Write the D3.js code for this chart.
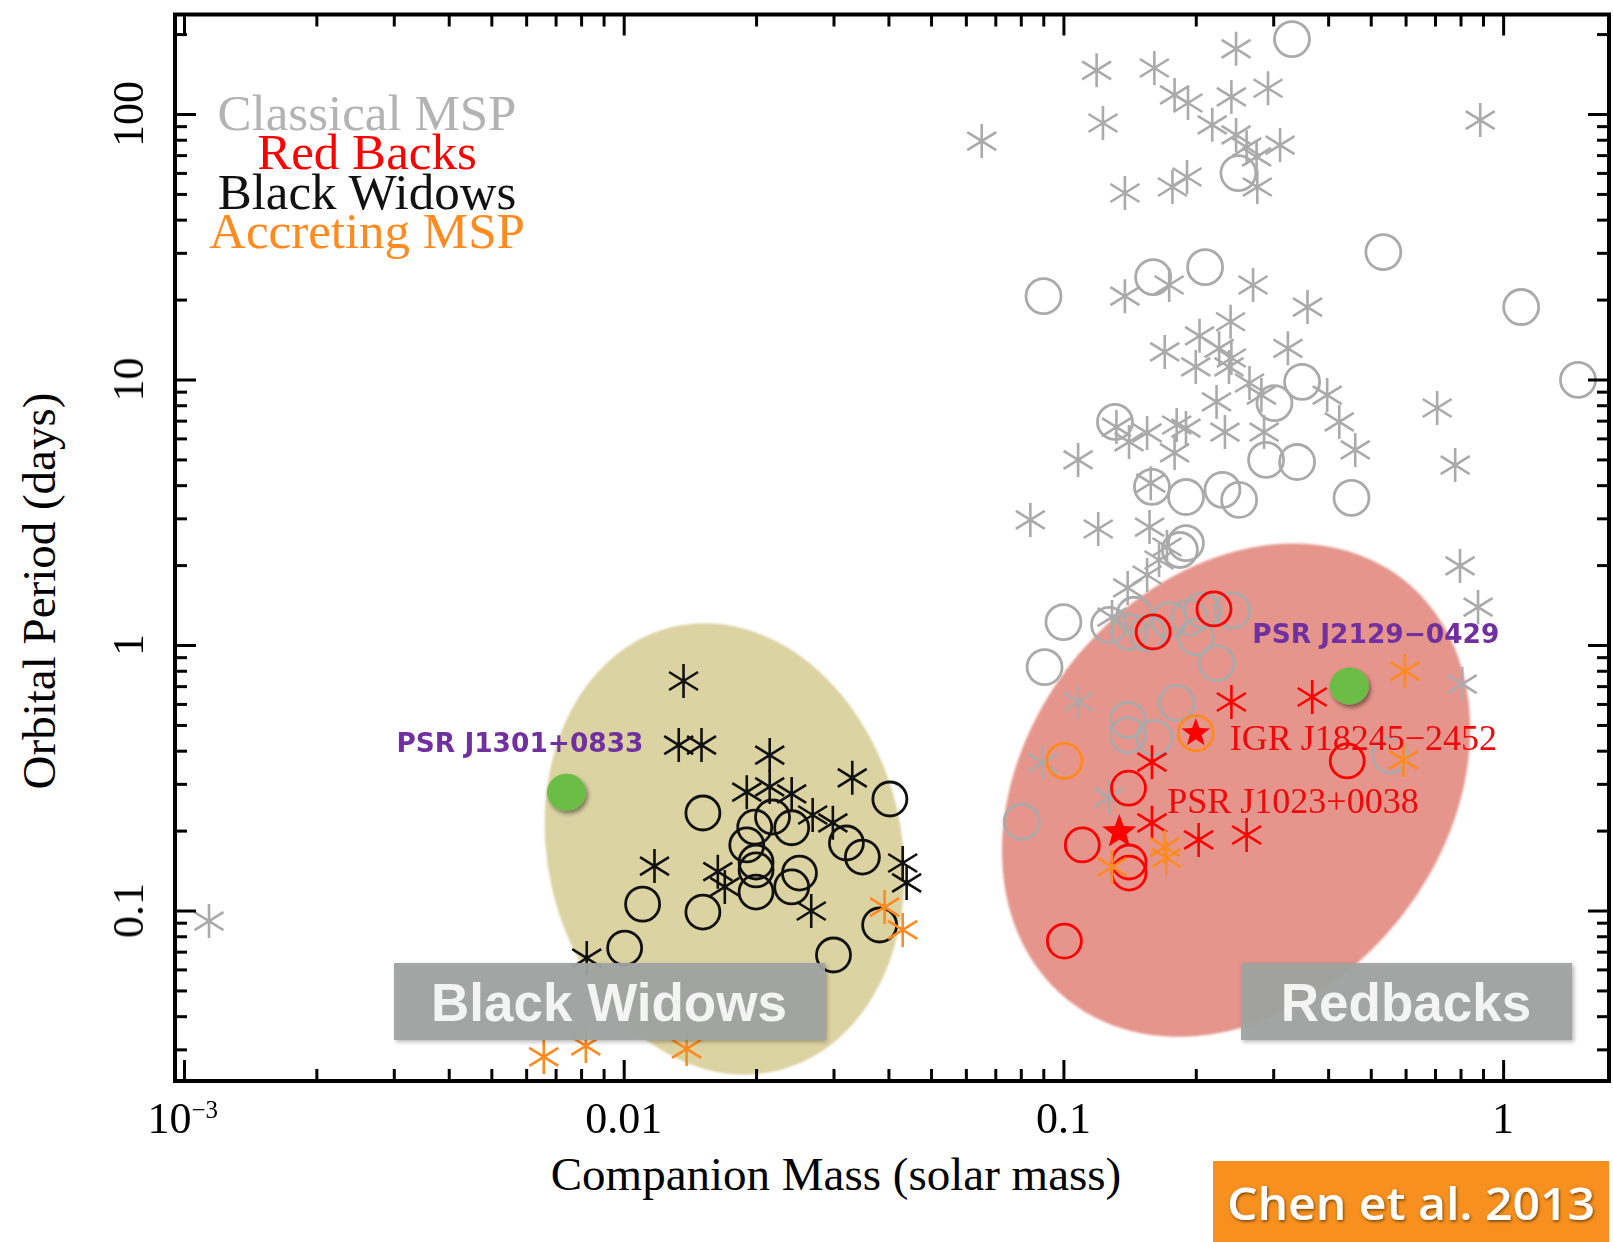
<!DOCTYPE html>
<html>
<head>
<meta charset="utf-8">
<script src="https://cdn.jsdelivr.net/npm/d3@7"></script>
<style>
body{margin:0;background:#fff;}
svg{display:block;}
</style>
</head>
<body>
<script>
//-----------------------------------------------------------------------------------------------------------------DATA

// axis limits and ticks
var massRange = [0.000954, 1.741];
var periodRange = [0.0228, 237];
var xMajorTicks = [0.001, 0.01, 0.1, 1];
var xTickLabels = [["10", "\u22123"], ["0.01"], ["0.1"], ["1"]];
var xMinorTicks = [0.002,0.003,0.004,0.005,0.006,0.007,0.008,0.009,
	0.02,0.03,0.04,0.05,0.06,0.07,0.08,0.09,
	0.2,0.3,0.4,0.5,0.6,0.7,0.8,0.9];
var yMajorTicks = [0.1, 1, 10, 100];
var yTickLabels = ["0.1", "1", "10", "100"];
var yMinorTicks = [0.03,0.04,0.05,0.06,0.07,0.08,0.09,
	0.2,0.3,0.4,0.5,0.6,0.7,0.8,0.9,
	2,3,4,5,6,7,8,9,
	20,30,40,50,60,70,80,90,200];

var legendNames = ["Classical MSP", "Red Backs", "Black Widows", "Accreting MSP"];

// [companion mass, orbital period]
var classicalStars = [[0.119,146],[0.161,149],[0.247,176],[0.292,125],[0.179,118],[0.192,110],[0.241,116],
	[0.123,92.5],[0.218,91],[0.247,83.4],[0.261,75],[0.275,68.9],[0.311,76.4],[0.276,53.1],[0.191,57.9],
	[0.177,53.1],[0.138,50.4],[0.0652,79.1],[0.887,94.9],[0.138,20.6],[0.174,22.7],[0.270,22.7],
	[0.359,18.75],[0.240,16.5],[0.204,14.6],[0.170,12.7],[0.226,13.1],[0.324,13.1],[0.241,12.05],
	[0.200,11.15],[0.238,11.15],[0.265,9.70],[0.282,8.74],[0.223,8.23],[0.398,8.74],[0.424,6.92],
	[0.461,5.43],[0.286,6.34],[0.233,6.34],[0.181,6.74],[0.190,6.56],[0.155,6.29],[0.141,5.82],
	[0.132,6.62],[0.179,5.29],[0.108,4.98],[0.158,4.07],[0.0841,2.96],[0.120,2.735],[0.157,2.78],
	[0.172,2.34],[0.165,2.09],[0.155,1.835],[0.140,1.64],[0.129,1.274],[0.108,0.610],[0.0896,0.360],
	[0.127,0.267],[0.708,7.81],[0.778,4.76],[0.798,1.985],[0.877,1.39],[0.807,0.713],[0.00114,0.0913]];
var classicalCircles = [[0.331,191.5],[0.250,59.9],[0.0901,20.6],[0.160,24.3],[0.210,26.5],[0.534,30.2],
	[1.099,18.75],[1.48,9.96],[0.131,6.92],[0.159,3.94],[0.190,3.61],[0.230,3.84],[0.251,3.52],[0.289,4.98],
	[0.340,4.89],[0.302,8.15],[0.349,9.79],[0.452,3.58],[0.190,2.42],[0.184,2.28],[0.100,1.22],[0.0906,0.826],
	[0.141,1.12],[0.155,1.11],[0.174,1.24],[0.193,1.27],[0.207,1.35],[0.242,1.35],[0.200,1.07],[0.223,0.855],
	[0.181,0.605],[0.140,0.522],[0.140,0.458],[0.161,0.447],[0.0804,0.216],[0.553,0.385],[0.127,1.19],[0.145,1.30]];
var widowStars = [[0.01368,0.732],[0.01334,0.420],[0.01503,0.420],[0.02148,0.385],[0.01905,0.279],[0.02148,0.292],
	[0.0241,0.275],[0.0331,0.316],[0.0269,0.229],[0.0299,0.214],[0.0431,0.151],[0.0440,0.127],[0.01175,0.147],
	[0.01637,0.140],[0.01698,0.1227],[0.0267,0.0996],[0.00824,0.0662]];
var widowCircles = [[0.01514,0.233],[0.0403,0.263],[0.0218,0.225],[0.01986,0.206],[0.0241,0.205],[0.0321,0.1796],
	[0.0349,0.159],[0.01905,0.1766],[0.0200,0.1523],[0.0200,0.1422],[0.0251,0.1384],[0.0241,0.1227],[0.0200,0.1174],
	[0.01104,0.1057],[0.01514,0.0987],[0.0382,0.0882],[0.01005,0.0722],[0.0300,0.0680]];
var accretingStars = [[0.0392,0.103],[0.0431,0.0845],[0.00658,0.0281],[0.00820,0.0309],[0.0139,0.0301],
	[0.170,0.1734],[0.1714,0.1577],[0.129,0.146],[0.598,0.798],[0.593,0.369]];
var accretingCircles = [[0.1005,0.366],[0.200,0.466]];
var redbackStars = [[0.241,0.610],[0.368,0.637],[0.159,0.362],[0.159,0.214],[0.203,0.1844],[0.261,0.1925]];
var redbackCircles = [[0.160,1.12],[0.220,1.367],[0.1406,0.289],[0.1104,0.1766],[0.141,0.1523],[0.141,0.1384],
	[0.1005,0.0767],[0.442,0.366]];

// named redback systems (filled stars)
var namedRedbacks = ["IGR J18245\u22122452", "PSR J1023+0038"];
var namedRedbackValues = [[0.200,0.466],[0.134,0.1976]];

// highlighted pulsars (green dots)
var highlightNames = ["PSR J1301+0833", "PSR J2129\u22120429"];
var highlightValues = [[0.00741,0.279],[0.447,0.701]];

// shaded populations
var zoneNames = ["Black Widows", "Redbacks"];
var zoneCenters = [[0.01696,0.1706],[0.247,0.284]];

//-----------------------------------------------------------------------------------------------------------------SETUP

var W = 1613, H = 1242;
var plot = {left:175, right:1609, top:14.5, bottom:1081};
var serif = "'Liberation Serif','Times New Roman',serif";

var gray = "#aaaaaa", red = "#ff0000", orange = "#ff8a1f", black = "#111111";

var svg = d3.select("body").append("svg").attr("width", W).attr("height", H);
var defs = svg.append("defs");

var x = d3.scaleLog().domain(massRange).range([plot.left, plot.right]);
var y = d3.scaleLog().domain(periodRange).range([plot.bottom, plot.top]);

function addShadow(id, dx, dy, sd, op){
	defs.append("filter").attr("id", id).attr("x", "-30%").attr("y", "-30%").attr("width", "160%").attr("height", "160%")
		.append("feDropShadow").attr("dx", dx).attr("dy", dy).attr("stdDeviation", sd)
		.attr("flood-color", "#000").attr("flood-opacity", op);
}
addShadow("dotShadow", 2, 3, 2, 0.45);
addShadow("boxShadow", 2, 2, 2, 0.3);
addShadow("textShadow", 1, 1.5, 1.5, 0.55);
defs.append("filter").attr("id", "soft").append("feGaussianBlur").attr("stdDeviation", 1.3);

function pos(d){ return "translate(" + x(d[0]) + "," + y(d[1]) + ")"; }

var asteriskPath = "M0,-17V17M-14.5,-9L14.5,9M-14.5,9L14.5,-9";

function starPath(R, r){
	var p = [];
	for(var i=0;i<10;i++){
		var a = -Math.PI/2 + i*Math.PI/5;
		var rad = i%2 ? r : R;
		p.push([(rad*Math.cos(a)).toFixed(2), (rad*Math.sin(a)).toFixed(2)]);
	}
	return "M" + p.join("L") + "Z";
}

//-----------------------------------------------------------------------------------------------------------------ZONES

var zoneStyle = [
	{rx:177, ry:228, angle:-13, fill:"#dcd3a3"},
	{rx:208, ry:269, angle:39, fill:"#e5958b"}
];
svg.append("g").attr("filter", "url(#soft)").selectAll("ellipse").data(zoneCenters).join("ellipse")
	.attr("transform", function(d,i){ return pos(d) + " rotate(" + zoneStyle[i].angle + ")"; })
	.attr("rx", function(d,i){ return zoneStyle[i].rx; })
	.attr("ry", function(d,i){ return zoneStyle[i].ry; })
	.attr("fill", function(d,i){ return zoneStyle[i].fill; });

//-----------------------------------------------------------------------------------------------------------------POINTS

function drawCircles(data, color, r){
	svg.append("g").selectAll("circle").data(data).join("circle")
		.attr("cx", function(d){ return x(d[0]); })
		.attr("cy", function(d){ return y(d[1]); })
		.attr("r", r)
		.attr("fill", "none").attr("stroke", color).attr("stroke-width", 2.8);
}

function drawAsterisks(data, color){
	svg.append("g").selectAll("path").data(data).join("path")
		.attr("transform", pos)
		.attr("d", asteriskPath)
		.attr("fill", "none").attr("stroke", color).attr("stroke-width", 2.6);
}

drawCircles(classicalCircles, gray, 17.5);
drawAsterisks(classicalStars, gray);
drawCircles(widowCircles, black, 17);
drawAsterisks(widowStars, black);
drawCircles(redbackCircles, red, 17);
drawAsterisks(redbackStars, red);
drawCircles(accretingCircles, orange, 17.5);
drawAsterisks(accretingStars, orange);

var starSizes = [[15, 6.2], [18, 7.5]];
svg.append("g").selectAll("path").data(namedRedbackValues).join("path")
	.attr("transform", pos)
	.attr("d", function(d,i){ return starPath(starSizes[i][0], starSizes[i][1]); })
	.attr("fill", red);

// labels of named redbacks
var rbOffsets = [[34, 17], [48, -19]];
svg.append("g").selectAll("text").data(namedRedbackValues).join("text")
	.attr("x", function(d,i){ return x(d[0]) + rbOffsets[i][0]; })
	.attr("y", function(d,i){ return y(d[1]) + rbOffsets[i][1]; })
	.attr("font-family", serif).attr("font-size", 36).attr("fill", "#ee0a0a")
	.text(function(d,i){ return namedRedbacks[i]; });

// highlighted pulsars
svg.append("g").selectAll("ellipse").data(highlightValues).join("ellipse")
	.attr("cx", function(d){ return x(d[0]); })
	.attr("cy", function(d){ return y(d[1]); })
	.attr("rx", 19.5).attr("ry", 18.5)
	.attr("fill", "#6cbd45").attr("filter", "url(#dotShadow)");

var hlOffsets = [[-170, -40], [-97, -43]];
svg.append("g").selectAll("text").data(highlightValues).join("text")
	.attr("x", function(d,i){ return x(d[0]) + hlOffsets[i][0]; })
	.attr("y", function(d,i){ return y(d[1]) + hlOffsets[i][1]; })
	.attr("font-family", "'DejaVu Sans',sans-serif").attr("font-weight", "bold")
	.attr("font-size", 26.5).attr("fill", "#7030a0")
	.attr("textLength", 247).attr("lengthAdjust", "spacingAndGlyphs")
	.text(function(d,i){ return highlightNames[i]; });

//-----------------------------------------------------------------------------------------------------------------ZONE BOXES

var boxes = [{x:394, w:431, cx:609}, {x:1241, w:331, cx:1406}];
var boxG = svg.append("g").selectAll("g").data(zoneNames).join("g");
boxG.append("rect")
	.attr("x", function(d,i){ return boxes[i].x; })
	.attr("y", 963).attr("width", function(d,i){ return boxes[i].w; }).attr("height", 77)
	.attr("fill", "#a0a3a1").attr("fill-opacity", 0.95).attr("filter", "url(#boxShadow)");
boxG.append("text")
	.attr("x", function(d,i){ return boxes[i].cx; })
	.attr("y", 1021).attr("text-anchor", "middle")
	.attr("font-family", "'Liberation Sans',Arial,sans-serif").attr("font-weight", "bold")
	.attr("font-size", 53).attr("fill", "#f4f4f4")
	.text(function(d){ return d; });

//-----------------------------------------------------------------------------------------------------------------AXES

function tickAxis(axisFn, values, size, transform){
	var g = svg.append("g").attr("transform", transform)
		.call(axisFn.tickValues(values).tickSize(-size).tickSizeOuter(0).tickFormat(""));
	g.select(".domain").remove();
	g.selectAll("line").attr("stroke", "#000").attr("stroke-width", 3);
}

tickAxis(d3.axisBottom(x), xMajorTicks, 21, "translate(0," + plot.bottom + ")");
tickAxis(d3.axisBottom(x), xMinorTicks, 12, "translate(0," + plot.bottom + ")");
tickAxis(d3.axisTop(x), xMajorTicks, 21, "translate(0," + plot.top + ")");
tickAxis(d3.axisTop(x), xMinorTicks, 12, "translate(0," + plot.top + ")");
tickAxis(d3.axisLeft(y), yMajorTicks, 21, "translate(" + plot.left + ",0)");
tickAxis(d3.axisLeft(y), yMinorTicks, 12, "translate(" + plot.left + ",0)");
tickAxis(d3.axisRight(y), yMajorTicks, 21, "translate(" + plot.right + ",0)");
tickAxis(d3.axisRight(y), yMinorTicks, 12, "translate(" + plot.right + ",0)");

svg.append("rect")
	.attr("x", plot.left).attr("y", plot.top)
	.attr("width", plot.right - plot.left).attr("height", plot.bottom - plot.top)
	.attr("fill", "none").attr("stroke", "#000").attr("stroke-width", 4);

// x tick labels
var xl = svg.append("g").selectAll("text").data(xMajorTicks).join("text")
	.attr("x", function(d,i){ return xTickLabels[i].length > 1 ? x(d) + 34 : x(d); })
	.attr("y", 1133)
	.attr("text-anchor", function(d,i){ return xTickLabels[i].length > 1 ? "end" : "middle"; })
	.attr("font-family", serif).attr("font-size", 44).attr("fill", "#000");
xl.each(function(d,i){
	var t = d3.select(this);
	t.text(xTickLabels[i][0]);
	if(xTickLabels[i].length > 1){
		t.append("tspan").attr("dy", -15).attr("font-size", 25).text(xTickLabels[i][1]);
	}
});

// y tick labels
svg.append("g").selectAll("text").data(yMajorTicks).join("text")
	.attr("transform", function(d){ return "translate(143," + y(d) + ") rotate(-90)"; })
	.attr("text-anchor", "middle")
	.attr("font-family", serif).attr("font-size", 44).attr("fill", "#000")
	.text(function(d,i){ return yTickLabels[i]; });

// axis titles
svg.append("text").attr("x", 836).attr("y", 1190).attr("text-anchor", "middle")
	.attr("font-family", serif).attr("font-size", 47).attr("fill", "#000")
	.text("Companion Mass (solar mass)");
svg.append("text").attr("transform", "translate(55,591) rotate(-90)").attr("text-anchor", "middle")
	.attr("font-family", serif).attr("font-size", 47).attr("fill", "#000")
	.text("Orbital Period (days)");

//-----------------------------------------------------------------------------------------------------------------LEGEND

var legendColors = ["#b3b3b3", red, black, orange];
svg.append("g").selectAll("text").data(legendNames).join("text")
	.attr("x", 367)
	.attr("y", function(d,i){ return 130 + i*39.3; })
	.attr("text-anchor", "middle")
	.attr("font-family", serif).attr("font-size", 51)
	.attr("fill", function(d,i){ return legendColors[i]; })
	.text(function(d){ return d; });

//-----------------------------------------------------------------------------------------------------------------CREDIT

svg.append("rect").attr("x", 1213).attr("y", 1161).attr("width", 396).attr("height", 81).attr("fill", "#f7901e");
svg.append("text").attr("x", 1227).attr("y", 1220)
	.attr("font-family", "'Open Sans',sans-serif").attr("font-weight", 600).attr("font-size", 45)
	.attr("fill", "#ffffff").attr("filter", "url(#textShadow)")
	.attr("textLength", 368).attr("lengthAdjust", "spacingAndGlyphs")
	.text("Chen et al. 2013");
</script>
</body>
</html>
